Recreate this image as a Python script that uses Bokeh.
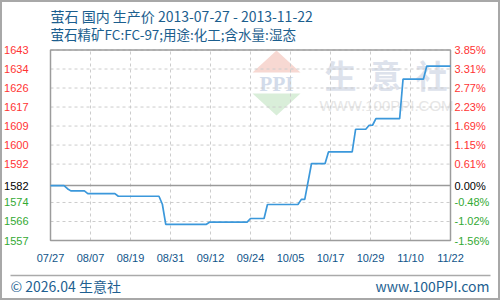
import pandas as pd
from bokeh.plotting import figure
from bokeh.models import Range1d
from bokeh.core.properties import value
from bokeh.embed import file_html
from bokeh.resources import INLINE

# ---------------- data ----------------
title_text = "萤石 国内 生产价 2013-07-27 - 2013-11-22"
subtitle_text = "萤石精矿FC:FC-97;用途:化工;含水量:湿态"

dates = ["2013-07-27", "2013-07-31", "2013-08-01", "2013-08-02", "2013-08-06",
         "2013-08-07", "2013-08-15", "2013-08-16", "2013-08-28", "2013-08-29",
         "2013-08-30", "2013-09-11", "2013-09-12", "2013-09-23", "2013-09-24",
         "2013-09-28", "2013-09-29", "2013-10-08", "2013-10-09", "2013-10-10",
         "2013-10-12", "2013-10-16", "2013-10-17", "2013-10-24", "2013-10-25",
         "2013-10-28", "2013-10-29", "2013-10-30", "2013-10-31", "2013-11-07",
         "2013-11-08", "2013-11-14", "2013-11-15", "2013-11-22"]
prices = [1582.0, 1582.0, 1580.6, 1579.6, 1579.6,
          1578.4, 1578.4, 1577.2, 1577.2, 1573.6,
          1564.6, 1564.6, 1565.6, 1565.6, 1567.2,
          1567.2, 1573.5, 1573.5, 1575.8, 1575.8,
          1591.9, 1591.9, 1597.1, 1597.1, 1607.3,
          1607.3, 1609.1, 1609.1, 1612.1, 1612.1,
          1629.8, 1629.8, 1635.7, 1635.7]

base_price = 1582.0
pct_ticks = [3.85, 3.31, 2.77, 2.23, 1.69, 1.15, 0.61, 0.00, -0.48, -1.02, -1.56]
price_tick_labels = ["1643", "1634", "1626", "1617", "1609", "1600", "1592",
                     "1582", "1574", "1566", "1557"]
pct_tick_labels = ["3.85%", "3.31%", "2.77%", "2.23%", "1.69%", "1.15%", "0.61%",
                   "0.00%", "-0.48%", "-1.02%", "-1.56%"]
x_tick_labels = ["07/27", "08/07", "08/19", "08/31", "09/12", "09/24",
                 "10/05", "10/17", "10/29", "11/10", "11/22"]

footer_left = "© 2026.04 生意社"
footer_right = "www.100PPI.com"
watermark_chars = ["生", "意", "社"]
watermark_url = "WWW.100PPI.COM"

# ---------------- layout ----------------
W, H = 500, 300
PL, PR, PT, PB = 50.0, 450.0, 49.5, 240.0

xd = [int(v) for v in (pd.to_datetime(dates).astype("int64") // 10**6)]
x0, x1 = xd[0], xd[-1]
y1 = base_price * (1 + pct_ticks[0] / 100.0)
y0 = base_price * (1 + pct_ticks[-1] / 100.0)
mpp = (x1 - x0) / (PR - PL)
upp = (y1 - y0) / (PB - PT)

def X(px):
    return x0 + (px - PL) * mpp

def Y(py):
    return y1 - (py - PT) * upp

p = figure(width=W, height=H,
           x_range=Range1d(X(0), X(W)), y_range=Range1d(Y(H), Y(0)),
           output_backend="svg", toolbar_location=None,
           x_axis_location=None, y_axis_location=None,
           min_border=0, background_fill_color="white", border_fill_color="white",
           outline_line_color="#a8a8a8", outline_line_width=3)
p.xgrid.visible = False
p.ygrid.visible = False

CJK = value("Noto Sans CJK SC")
LAT = value("Liberation Sans")

# ---------------- watermark ----------------
p.patch([X(252), X(276), X(300)], [Y(72), Y(50), Y(72)],
        fill_color="#f7d8d2", line_color=None)
p.patch([X(252), X(300), X(276)], [Y(93), Y(93), Y(115)],
        fill_color="#d9eed9", line_color=None)
p.text(x=[X(276)], y=[Y(83)], text=["PPI"], text_font=value("Liberation Serif"),
       text_font_style="bold", text_font_size="21px", text_color="#d2dbea",
       text_align="center", text_baseline="middle")
p.text(x=[X(340), X(385), X(431)], y=[Y(73)] * 3, text=watermark_chars,
       text_font=CJK, text_font_size="32px", text_font_style="bold",
       text_color="#dde2ec", text_align="center", text_baseline="middle")
p.text(x=[X(386)], y=[Y(105)], text=[watermark_url], text_font=LAT,
       text_font_size="15px", text_color="#e6e6e6",
       text_align="center", text_baseline="middle")

# ---------------- grid ----------------
y_ticks = [base_price * (1 + v / 100.0) for v in pct_ticks]
n_x = len(x_tick_labels)
x_ticks = [x0 + i * (x1 - x0) / (n_x - 1) for i in range(n_x)]

grid_y = [t for t, v in zip(y_ticks, pct_ticks) if v != 0]
p.segment(x0=[x0] * len(grid_y), x1=[x1] * len(grid_y), y0=grid_y, y1=grid_y,
          line_color="#cccccc", line_width=1, line_dash="3 3")
p.segment(x0=x_ticks, x1=x_ticks, y0=[y0] * n_x, y1=[y1] * n_x,
          line_color="#cccccc", line_width=1, line_dash="3 3")
p.segment(x0=[x0], x1=[x1], y0=[base_price], y1=[base_price],
          line_color="#9a9a9a", line_width=1.5)
p.quad(left=[x0], right=[x1], bottom=[y0], top=[y1],
       fill_color=None, line_color="#9c9c9c", line_width=1.5)

# ---------------- series ----------------
p.line(xd, prices, line_color="#3b98db", line_width=1.7)

# ---------------- tick labels ----------------
def sign_color(v):
    if v > 0:
        return "#ff3333"
    if v < 0:
        return "#33a933"
    return "#000000"

label_colors = [sign_color(v) for v in pct_ticks]
p.text(x=[x0] * len(y_ticks), y=y_ticks, text=price_tick_labels, x_offset=-22,
       text_align="right", text_baseline="middle", text_color=label_colors,
       text_font=LAT, text_font_size="11px")
p.text(x=[x1] * len(y_ticks), y=y_ticks, text=pct_tick_labels, x_offset=4,
       text_align="left", text_baseline="middle", text_color=label_colors,
       text_font=LAT, text_font_size="11px")
p.text(x=x_ticks, y=[Y(257)] * n_x, text=x_tick_labels,
       text_align="center", text_baseline="middle", text_color="#10558a",
       text_font=LAT, text_font_size="11px")

# ---------------- titles & footer ----------------
p.text(x=[X(50)], y=[Y(15)], text=[title_text], text_font=CJK,
       text_font_size="14px", text_color="#1b5e8e",
       text_align="left", text_baseline="middle")
p.text(x=[X(50)], y=[Y(33)], text=[subtitle_text], text_font=CJK,
       text_font_size="13.5px", text_color="#1b5e8e",
       text_align="left", text_baseline="middle")
p.segment(x0=[X(10)], x1=[X(490)], y0=[Y(275)], y1=[Y(275)],
          line_color="#aaaaaa", line_width=1.5)
p.text(x=[X(10)], y=[Y(285)], text=[footer_left], text_font=CJK,
       text_font_size="14px", text_color="#1e5f91",
       text_align="left", text_baseline="middle")
p.text(x=[X(489)], y=[Y(285)], text=[footer_right], text_font=CJK,
       text_font_size="14px", text_color="#1e5f91",
       text_align="right", text_baseline="middle")

open("out.html", "w").write(file_html(p, INLINE))
